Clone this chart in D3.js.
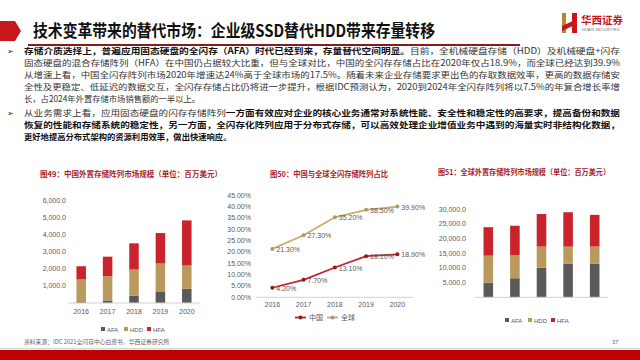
<!DOCTYPE html>
<html>
<head>
<meta charset="utf-8">
<script src="https://cdn.jsdelivr.net/npm/d3@7"></script>
<style>
  body { margin: 0; background: #fff; }
  svg { display: block; font-family: "Noto Sans CJK SC", "Liberation Sans", sans-serif; }
</style>
</head>
<body>
<div id="chart"></div>
<script>
// data
const years = ["2016", "2017", "2018", "2019", "2020"];
const keys = ["AFA", "HDD", "HFA"];
const chinaAFA = [50, 150, 430, 680, 830];
const chinaHDD = [1330, 1420, 1530, 1630, 1360];
const chinaHFA = [770, 1140, 1530, 1780, 2640];
const chinaTicks = [1000, 2000, 3000, 4000, 5000, 6000];
const shareChina = [0.042, 0.077, 0.131, 0.181, 0.189];
const shareGlobal = [0.213, 0.273, 0.352, 0.385, 0.399];
const shareTicks = [0, 0.05, 0.10, 0.15, 0.20, 0.25, 0.30, 0.35, 0.40, 0.45];
const globalAFA = [5000, 6500, 10100, 11400, 11400];
const globalHDD = [9200, 7900, 7200, 5900, 5900];
const globalHFA = [9700, 10000, 11100, 11700, 10800];
const globalTicks = [5000, 10000, 15000, 20000, 25000, 30000];

const para1 = [
  [["存储介质选择上，普遍应用固态硬盘的全闪存（AFA）时代已经到来，存量替代空间明显。", true], ["目前，全机械硬盘存储（HDD）及机械硬盘+闪存", false]],
  [["固态硬盘的混合存储阵列（HFA）在中国仍占据较大比重，但与全球对比，中国的全闪存存储占比在2020年仅占18.9%，而全球已经达到39.9%", false]],
  [["从增速上看，中国全闪存阵列市场2020年增速达24%高于全球市场的17.5%。随着未来企业存储要求更出色的存取数据效率，更高的数据存储安", false]],
  [["全性及更稳定、低延迟的数据交互，全闪存存储占比仍将进一步提升，根据IDC预测认为，2020到2024年全闪存阵列将以7.5%的年复合增长率增", false]],
  [["长，占2024年外置存储市场销售额的一半以上。", false]]
];
const para2 = [
  [["从业务需求上看，应用固态硬盘的闪存存储阵列", false], ["一方面有效应对企业的核心业务通常对系统性能、安全性和稳定性的高要求，提高备份和数据", true]],
  [["恢复的性能和存储系统的稳定性，另一方面，全闪存化阵列应用于分布式存储，可以高效处理企业增值业务中遇到的海量实时非结构化数据，", true]],
  [["更好地提高分布式架构的资源利用效率，做出快速响应。", true]]
];

const colors = { AFA: "#5a5a5a", HDD: "#b99a5c", HFA: "#c9242b" };
const titleRed = "#a8232a";

const svg = d3.select("#chart").append("svg")
  .attr("width", 640)
  .attr("height", 360);

// header
svg.append("polygon")
  .attr("points", "0,21 15,21 21,31 15,41 0,41")
  .attr("fill", "#c8161d");
svg.append("text")
  .attr("x", 33).attr("y", 37)
  .attr("font-size", 16.5).attr("font-weight", "bold").attr("fill", "#111")
  .attr("textLength", 402).attr("lengthAdjust", "spacingAndGlyphs")
  .text("技术变革带来的替代市场：企业级SSD替代HDD带来存量转移");
svg.append("line")
  .attr("x1", 28).attr("x2", 520).attr("y1", 45).attr("y2", 45)
  .attr("stroke", "#8b1a1e").attr("stroke-width", 2);

// logo
const logo = svg.append("g");
logo.append("rect").attr("x", 562).attr("y", 13).attr("width", 4).attr("height", 20).attr("fill", "#b8862e");
logo.append("rect").attr("x", 572).attr("y", 13).attr("width", 5).attr("height", 20).attr("fill", "#c8161d");
logo.append("polygon").attr("points", "562,26 577,19 577,24 562,31").attr("fill", "#c8161d");
logo.append("text").attr("x", 581).attr("y", 24)
  .attr("font-size", 10.5).attr("font-weight", "bold").attr("fill", "#c8161d")
  .text("华西证券");
logo.append("text").attr("x", 582).attr("y", 31)
  .attr("font-size", 4).attr("fill", "#777").attr("font-family", "Liberation Sans")
  .text("HUAXI SECURITIES");

// body text
function writeLines(lines, y0, justifyCount) {
  lines.forEach((segs, i) => {
    const t = svg.append("text")
      .attr("x", 24).attr("y", y0 + i * 12)
      .attr("font-size", 8.3).attr("fill", "#222");
    if (i < justifyCount) t.attr("textLength", 596).attr("lengthAdjust", "spacingAndGlyphs");
    segs.forEach(s => {
      t.append("tspan")
        .attr("font-weight", s[1] ? "bold" : "normal")
        .attr("fill", s[1] ? "#111" : "#333")
        .text(s[0]);
    });
  });
}
svg.append("text").attr("x", 7).attr("y", 54).attr("font-size", 8.3).attr("fill", "#222").text("➢");
writeLines(para1, 54, 4);
svg.append("text").attr("x", 7).attr("y", 116).attr("font-size", 8.3).attr("fill", "#222").text("➢");
writeLines(para2, 116, 2);

// chart titles
function chartTitle(x, y, w, s) {
  svg.append("text")
    .attr("x", x).attr("y", y)
    .attr("font-size", 7.6).attr("font-weight", "bold").attr("fill", titleRed)
    .attr("textLength", w).attr("lengthAdjust", "spacingAndGlyphs")
    .text(s);
}
chartTitle(40, 177, 182, "图49：中国外置存储阵列市场规模（单位：百万美元）");
chartTitle(270, 177, 118, "图50：中国与全球全闪存储阵列占比");
chartTitle(438, 175, 172, "图51：全球外置存储阵列市场规模（单位：百万美元）");

// stacked bar chart helper
function stackedBars(cfg) {
  const rows = years.map((yr, i) => ({ year: yr, AFA: cfg.afa[i], HDD: cfg.hdd[i], HFA: cfg.hfa[i] }));
  const x = d3.scaleBand().domain(years).range([cfg.x0, cfg.x1]).paddingInner(0.64).paddingOuter(0.32);
  const y = d3.scaleLinear().domain([0, cfg.max]).range([cfg.base, cfg.top]);
  const g = svg.append("g");
  const series = d3.stack().keys(keys)(rows);
  g.selectAll("g.s").data(series).enter().append("g")
    .attr("fill", d => colors[d.key])
    .selectAll("rect").data(d => d).enter().append("rect")
    .attr("x", d => x(d.data.year))
    .attr("width", x.bandwidth())
    .attr("y", d => y(d[1]))
    .attr("height", d => y(d[0]) - y(d[1]));
  g.append("line")
    .attr("x1", cfg.x0).attr("x2", cfg.x1)
    .attr("y1", cfg.base).attr("y2", cfg.base)
    .attr("stroke", "#d0d0d0").attr("stroke-width", 1);
  g.selectAll("text.yl").data(cfg.ticks).enter().append("text")
    .attr("x", cfg.labelX).attr("y", d => y(d) + 2.5)
    .attr("text-anchor", "end").attr("font-size", 7)
    .attr("font-family", "Liberation Sans").attr("fill", "#595959")
    .text(d => d3.format(",.1f")(d));
  if (cfg.showYears) {
    g.selectAll("text.xl").data(years).enter().append("text")
      .attr("x", d => x(d) + x.bandwidth() / 2).attr("y", cfg.base + 11)
      .attr("text-anchor", "middle").attr("font-size", 7)
      .attr("font-family", "Liberation Sans").attr("fill", "#595959")
      .text(d => d);
  }
  const leg = g.selectAll("g.leg").data(keys).enter().append("g")
    .attr("transform", (d, i) => `translate(${cfg.legX + i * 23},${cfg.legY})`);
  leg.append("rect").attr("x", 0).attr("y", -3).attr("width", 4).attr("height", 4)
    .attr("fill", d => colors[d]);
  leg.append("text").attr("x", 6).attr("y", 1.5)
    .attr("font-size", 6).attr("font-family", "Liberation Sans").attr("fill", "#595959")
    .text(d => d);
}

stackedBars({
  afa: chinaAFA, hdd: chinaHDD, hfa: chinaHFA, ticks: chinaTicks,
  x0: 68, x1: 200, base: 303, top: 200.4, max: 6000, labelX: 66,
  showYears: true, legX: 101, legY: 330
});
stackedBars({
  afa: globalAFA, hdd: globalHDD, hfa: globalHFA, ticks: globalTicks,
  x0: 475, x1: 608, base: 297.3, top: 209.3, max: 30000, labelX: 466,
  showYears: false, legX: 505, legY: 321
});

// line chart
const lx = d3.scalePoint().domain(years).range([256.7, 413]).padding(0.5);
const ly = d3.scaleLinear().domain([0, 0.45]).range([297.3, 195]);
const lg = svg.append("g");
lg.append("line")
  .attr("x1", 256.7).attr("x2", 413).attr("y1", 297.3).attr("y2", 297.3)
  .attr("stroke", "#d0d0d0");
lg.selectAll("text.yl").data(shareTicks).enter().append("text")
  .attr("x", 251).attr("y", d => ly(d) + 2.5)
  .attr("text-anchor", "end").attr("font-size", 7)
  .attr("font-family", "Liberation Sans").attr("fill", "#595959")
  .text(d => d3.format(".2%")(d));
lg.selectAll("text.xl").data(years).enter().append("text")
  .attr("x", d => lx(d)).attr("y", 307)
  .attr("text-anchor", "middle").attr("font-size", 7)
  .attr("font-family", "Liberation Sans").attr("fill", "#595959")
  .text(d => d);

const lineSeries = [
  { name: "全球", values: shareGlobal, color: "#c9ad64", marker: "#a99a78" },
  { name: "中国", values: shareChina, color: "#c0232b", marker: "#8e1b20" }
];
const lineGen = d3.line().x((d, i) => lx(years[i])).y(d => ly(d));
lineSeries.forEach(s => {
  lg.append("path").attr("d", lineGen(s.values))
    .attr("fill", "none").attr("stroke", s.color).attr("stroke-width", 1.8);
  lg.selectAll(null).data(s.values).enter().append("circle")
    .attr("cx", (d, i) => lx(years[i])).attr("cy", d => ly(d))
    .attr("r", 2).attr("fill", s.marker);
  lg.selectAll(null).data(s.values).enter().append("text")
    .attr("x", (d, i) => lx(years[i]) + 4).attr("y", d => ly(d) + 3)
    .attr("font-size", 7).attr("font-family", "Liberation Sans").attr("fill", "#595959")
    .text(d => d3.format(".2%")(d));
});

// line legend
[lineSeries[1], lineSeries[0]].forEach((s, i) => {
  const gx = 295 + i * 32;
  lg.append("line").attr("x1", gx).attr("x2", gx + 11).attr("y1", 317.5).attr("y2", 317.5)
    .attr("stroke", s.color).attr("stroke-width", 1.8);
  lg.append("circle").attr("cx", gx + 5.5).attr("cy", 317.5).attr("r", 2).attr("fill", s.marker);
  lg.append("text").attr("x", gx + 14).attr("y", 320)
    .attr("font-size", 7).attr("fill", "#595959").text(s.name);
});

// footer
svg.append("text").attr("x", 24).attr("y", 344)
  .attr("font-size", 5.8).attr("fill", "#666")
  .text("资料来源：IDC 2021全闪存中心白皮书，华西证券研究所");
svg.append("text").attr("x", 612).attr("y", 344)
  .attr("font-size", 5.8).attr("fill", "#666").attr("font-family", "Liberation Sans")
  .text("37");
svg.append("rect").attr("x", 0).attr("y", 348).attr("width", 640).attr("height", 1.5).attr("fill", "#d9d9d9");
svg.append("rect").attr("x", 0).attr("y", 350).attr("width", 640).attr("height", 10).attr("fill", "#c00000");
</script>
</body>
</html>
